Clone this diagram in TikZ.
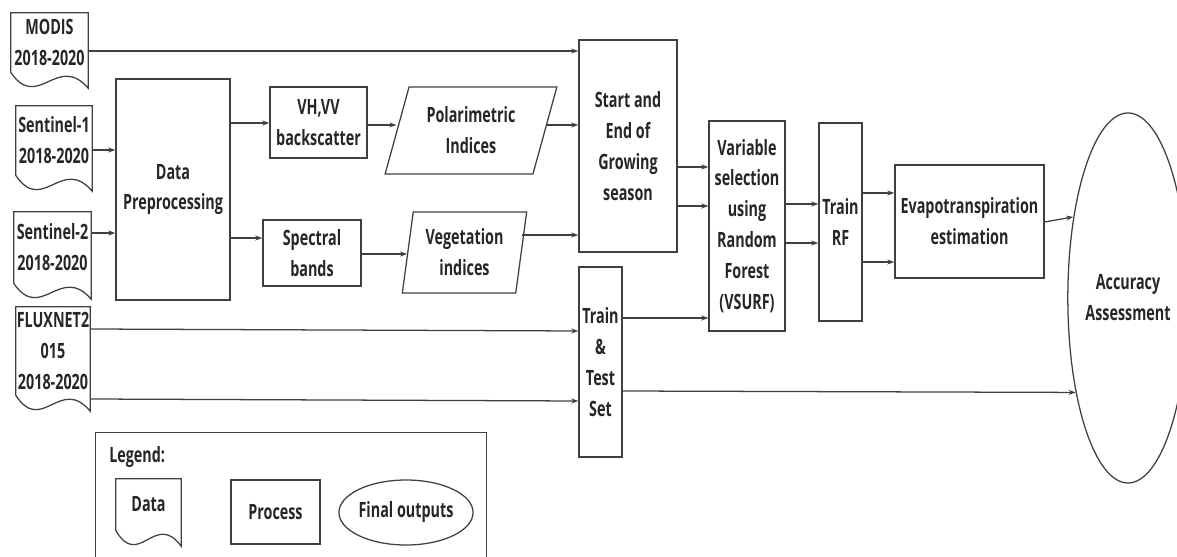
\documentclass[tikz,border=0pt]{standalone}
\usepackage{fontspec}
\setmainfont{Open Sans}[FakeStretch=0.68]
\usepackage{tikz}
\usetikzlibrary{arrows.meta,shapes.geometric,calc}

\newlength\pxl
\setlength\pxl{0.025cm}
% data sheet with wavy bottom, drawn around a named node
\newcommand{\docshape}[1]{\draw[ink] let \p1=(#1.north west), \p2=(#1.south east), \n1={\x2-\x1} in
  (\p1) -- (\x2,\y1) -- (\x2,\y2-16\pxl) .. controls (\x1+0.6*\n1,\y2+20\pxl) and (\x1+0.35*\n1,\y2-40\pxl) .. (\x1,\y2) -- cycle;}

\begin{document}
\begin{tikzpicture}
[
x=0.025cm, y=-0.025cm,
ink/.style={draw=black!75, line width=0.9pt},
conn/.style={ink, ->},
>={Stealth[length=5pt,width=3.5pt]},
every node/.style={font=\bfseries\fontsize{15}{22}\selectfont, text=black!85, align=center, inner sep=0pt},
wh/.style 2 args={minimum width=#1\pxl, minimum height=#2\pxl},
box/.style={rectangle, ink},
doc/.style={rectangle},
para/.style={trapezium, trapezium stretches=true, ink},
oval/.style={ellipse, ink}
]
\useasboundingbox (0,0) rectangle (1177,557);
\clip (0,0) rectangle (1177,557);

% inputs
\node[doc, wh={77}{59}] (modis) at (49.5,42.5) {MODIS\\2018-2020};
\node[doc, wh={76}{69}] (sen1) at (54,140.5) {Sentinel-1\\2018-2020};
\node[doc, wh={77}{71}] (sen2) at (52.5,247.5) {Sentinel-2\\2018-2020};
\node[doc, wh={74}{88}] (flux) at (53,351) {FLUXNET2\\015\\2018-2020};
\docshape{modis}
\docshape{sen1}
\docshape{sen2}
\docshape{flux}

% processing
\node[box, wh={114}{221}] (prep) at (173,189.5) {Data\\Preprocessing};
\node[box, wh={97}{71}] (vhvv) at (318.5,122.5) {VH,VV\\backscatter};
\node[box, wh={98}{66}] (bands) at (312,253) {Spectral\\bands};
\node[para, wh={172}{87}, trapezium left angle=70, trapezium right angle=110] (polar) at (471,130.5) {Polarimetric\\Indices};
\node[para, wh={125}{81}, trapezium left angle=80, trapezium right angle=100] (vegind) at (464.5,252.5) {Vegetation\\indices};
\node[box, wh={98}{212}] (season) at (628,146) {Start and\\End of\\Growing\\season};
\node[box, wh={43}{190}] (split) at (600.5,362) {Train\\\&\\Test\\Set};
\node[box, wh={76}{210}] (vsurf) at (747,226) {Variable\\selection\\using\\Random\\Forest\\(VSURF)};
\node[box, wh={43}{198}] (trainrf) at (840.5,222) {Train\\RF};
\node[box, wh={149}{113}] (evapo) at (969.5,221.5) {Evapotranspiration\\estimation};
\node[oval, wh={114}{370}] (accuracy) at (1128,298) {Accuracy\\Assessment};

\draw[conn] (modis.east |- 0,51) -- (season.west |- 0,51);
\draw[conn] (sen1.east |- 0,150) -- (prep.west |- 0,150);
\draw[conn] (sen2.east |- 0,233) -- (prep.west |- 0,233);
\draw[conn] (prep.east |- 0,123) -- (vhvv.west |- 0,123);
\draw[conn] (prep.east |- 0,238) -- (bands.west |- 0,238);
\draw[conn] (vhvv.east |- 0,125) -- (polar.west |- 0,125);
\draw[conn] (bands.east |- 0,254) -- (vegind.west |- 0,254);
\draw[conn] (polar.east |- 0,125) -- (season.west |- 0,125);
\draw[conn] (vegind.east |- 0,235) -- (season.west |- 0,235);
\draw[conn] (flux.east |- 0,329) -- (split.west |- 0,331);
\draw[conn] (flux.east |- 0,399) -- (split.west |- 0,401);
\draw[conn] (season.east |- 0,167) -- (vsurf.west |- 0,167);
\draw[conn] (season.east |- 0,206) -- (vsurf.west |- 0,206);
\draw[conn] (split.east |- 0,318) -- (vsurf.west |- 0,318);
\draw[conn] (split.east |- 0,391) -- (accuracy.241.7);
\draw[conn] (vsurf.east |- 0,204) -- (trainrf.west |- 0,204);
\draw[conn] (vsurf.east |- 0,243) -- (trainrf.west |- 0,243);
\draw[conn] (trainrf.east |- 0,193) -- (evapo.west |- 0,193);
\draw[conn] (trainrf.east |- 0,262) -- (evapo.west |- 0,262);
\draw[conn] (evapo.east |- 0,222) -- (accuracy.124.4);

% legend
\node[box, wh={391}{140}, anchor=north west] (legend) at (95,432) {};
\node[anchor=west] (legtitle) at (109,457) {Legend:};
\node[doc, wh={65}{51}] (legdata) at (148.5,504.5) {Data};
\docshape{legdata}
\node[box, wh={89}{64}] (legproc) at (275.5,512) {Process};
\node[oval, wh={130}{65}] (legout) at (406,512.5) {Final outputs};
\end{tikzpicture}
\end{document}
